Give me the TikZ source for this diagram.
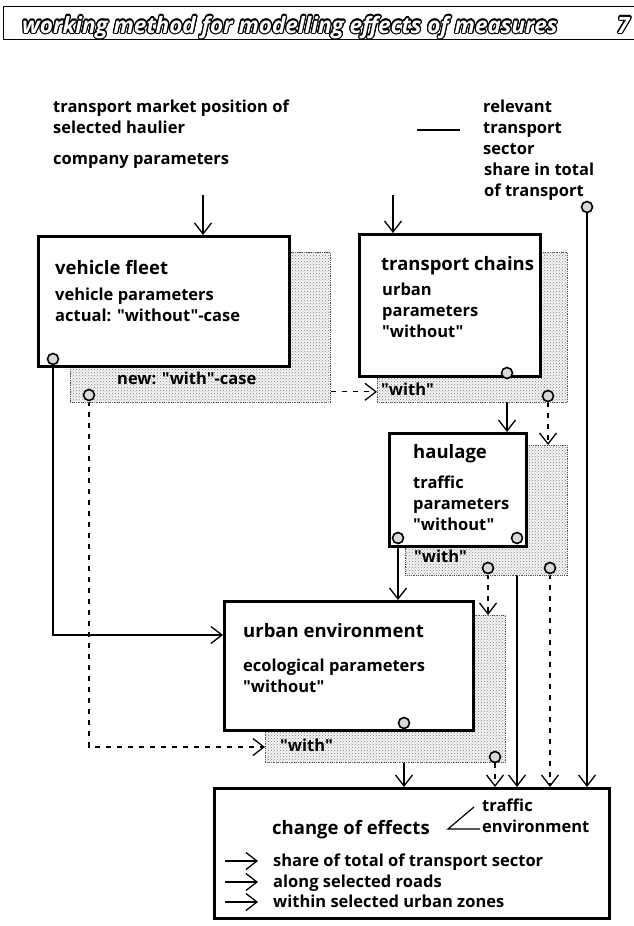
\documentclass[tikz,border=0pt]{standalone}
\usepackage{fontspec}
\setmainfont{Open Sans}[Ligatures=TeXOff]
\usepackage{contour}
\contourlength{1.2pt}
\contournumber{16}
\usetikzlibrary{arrows.meta,positioning,patterns,backgrounds}

\begin{document}
\begin{tikzpicture}[
  x=1pt,y=-1pt,
  font=\fontsize{16.5}{21}\selectfont\bfseries,
  box/.style={draw,line width=3pt,fill=white,anchor=north west,inner sep=0},
  withbox/.style={draw=black!70,densely dotted,thick,fill=black!4,postaction={pattern=crosshatch dots,pattern color=black!50},anchor=north west,inner sep=0},
  knob/.style={circle,draw,line width=1.6pt,fill=black!15,inner sep=0,minimum size=11pt},
  txt/.style={anchor=north west,inner sep=0,align=left},
  hd/.style={txt,font=\fontsize{18.5}{22}\selectfont\bfseries},
  arr/.style={-{Straight Barb[length=11pt,width=17pt]},line width=1.3pt},
  darr/.style={arr,dash pattern=on 5pt off 6pt}
]
\useasboundingbox (0,0) rectangle (634,926);

% title bar
\node[draw,thick,anchor=north west,minimum width=640pt,minimum height=33pt] (bar) at (3,6) {};
\node[anchor=base west,inner sep=0,text=white,font=\fontsize{22.5}{24}\selectfont\bfseries\itshape] (title) at (22,33) {\contour{black}{working method for modelling effects of measures}};
\node[anchor=base west,inner sep=0,text=white,font=\fontsize{22.5}{24}\selectfont\bfseries\itshape] (page) at (617,33) {\contour{black}{7}};

% inputs on top
\node[txt] (market) at (53,100) {transport market position of\\selected haulier};
\node[txt] (company) at (53,153) {company parameters};
\node[txt] (sector) at (483,100) {relevant\\transport\\sector};
\node[txt] (share) at (484,163) {share in total\\of transport};
\draw[line width=1.4pt] (417,130) -- (460,130);

% "with" shadows
\node[withbox,minimum width=260pt,minimum height=150pt] (fleetw) at (70,252) {};
\node[withbox,minimum width=190pt,minimum height=150pt] (chainsw) at (377,252) {};
\node[withbox,minimum width=162pt,minimum height=130pt] (haulw) at (405,445) {};
\node[withbox,minimum width=240pt,minimum height=147pt] (urbanw) at (265,615) {};

% "without" boxes
\node[box,minimum width=251pt,minimum height=130pt] (fleet) at (37,235) {};
\node[box,minimum width=181pt,minimum height=142pt] (chains) at (358,233) {};
\node[box,minimum width=137pt,minimum height=113pt] (haul) at (388,432) {};
\node[box,minimum width=249pt,minimum height=129pt] (urban) at (223,600) {};
\node[box,minimum width=395pt,minimum height=130pt] (effects) at (213,787) {};

% box texts
\node[hd] (fleet-t) at (55,260) {vehicle fleet};
\node[txt] (fleet-p) at (55,288) {vehicle parameters\\actual: "without"-case};
\node[txt] (fleetw-p) at (117,372) {new: "with"-case};
\node[hd] (chains-t) at (381,256) {transport chains};
\node[txt] (chains-p) at (382,283) {urban\\parameters\\"without"};
\node[txt] (chainsw-p) at (381,383) {"with"};
\node[hd] (haul-t) at (413,444) {haulage};
\node[txt] (haul-p) at (413,476) {traffic\\parameters\\"without"};
\node[txt] (haulw-p) at (414,550) {"with"};
\node[hd] (urban-t) at (243,623) {urban environment};
\node[txt] (urban-p) at (243,659) {ecological parameters\\"without"};
\node[txt] (urbanw-p) at (280,739) {"with"};
\node[hd] (effects-t) at (272,820) {change of effects};
\node[txt] (effects-p) at (482,799) {traffic\\environment};
\draw[line width=1.2pt] (474,807) -- (448,829) -- (480,829);
\node[anchor=base west,inner sep=0] (leg1) at (273,866) {share of total of transport sector};
\node[anchor=base west,inner sep=0] (leg2) at (273,887) {along selected roads};
\node[anchor=base west,inner sep=0] (leg3) at (273,907) {within selected urban zones};

% outlets
\node[knob] (kshare) at (587,207) {};
\node[knob] (kfleet) at (53,359) {};
\node[knob] (kfleetw) at (89,395) {};
\node[knob] (kchains) at (507,373) {};
\node[knob] (kchainsw) at (548,396) {};
\node[knob] (khaulL) at (398,538) {};
\node[knob] (khaulR) at (517,538) {};
\node[knob] (khaulwL) at (488,568) {};
\node[knob] (khaulwR) at (550,568) {};
\node[knob] (kurban) at (404,723) {};
\node[knob] (kurbanw) at (495,757) {};

\coordinate (in1) at (203,195);
\coordinate (in2) at (393,195);
\coordinate (fw) at ([yshift=11pt]fleetw.south east);

\begin{scope}[on background layer]
\draw[arr] (in1) -- (in1 |- fleet.north);
\draw[arr] (in2) -- (in2 |- chains.north);
\draw[arr] (kshare) -- (kshare |- effects.north);
\draw[arr] (kfleet) |- ([yshift=-35pt]urban.north west);
\draw[darr] (kfleetw) |- ([yshift=-132pt]urbanw.north west);
\draw[darr] (fw) -- (fw -| chainsw.west);
\draw[arr] (kchains) -- (kchains |- haul.north);
\draw[darr] (kchainsw) -- (kchainsw |- haulw.north);
\draw[arr] (khaulL) -- (khaulL |- urban.north);
\draw[arr] (khaulR) -- (khaulR |- effects.north);
\draw[darr] (khaulwL) -- (khaulwL |- urbanw.north);
\draw[darr] (khaulwR) -- (khaulwR |- effects.north);
\draw[arr] (kurban) -- (kurban |- effects.north);
\draw[darr] (kurbanw) -- (kurbanw |- effects.north);
\end{scope}

% legend arrows
\foreach \l in {leg1,leg2,leg3}
  \draw[arr] ([xshift=-48pt,yshift=5pt]\l.base west) -- ([xshift=-15pt,yshift=5pt]\l.base west);
\end{tikzpicture}
\end{document}
